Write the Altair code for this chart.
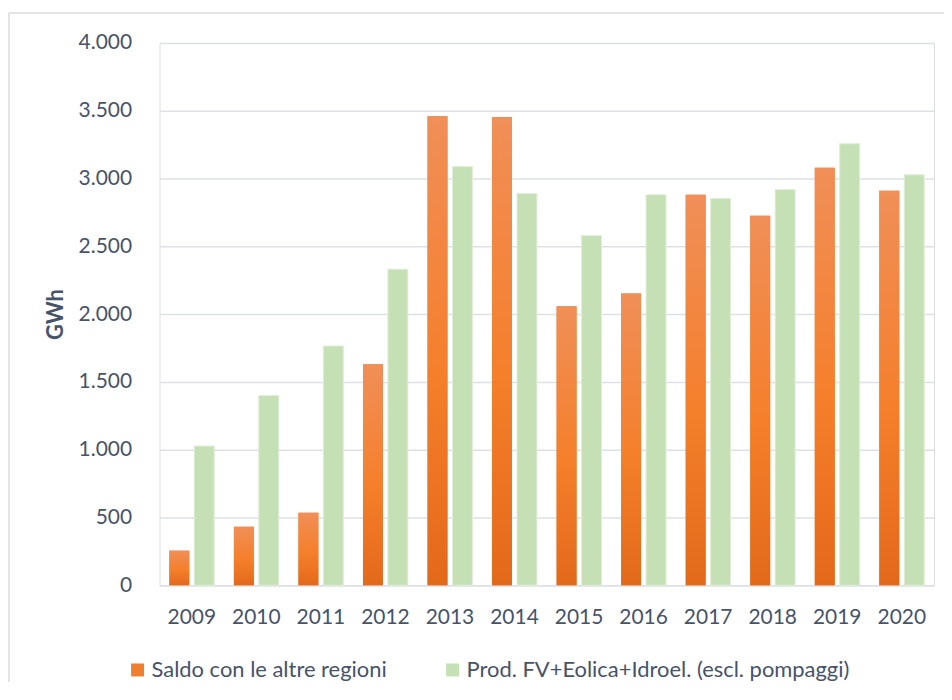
import altair as alt
import pandas as pd

anni = ["2009", "2010", "2011", "2012", "2013", "2014", "2015", "2016", "2017", "2018", "2019", "2020"]
saldo = [255, 432, 535, 1630, 3461, 3454, 2057, 2152, 2880, 2726, 3079, 2909]
prod = [1027, 1400, 1765, 2331, 3088, 2890, 2579, 2880, 2853, 2919, 3257, 3027]
serie = ["Saldo con le altre regioni", "Prod. FV+Eolica+Idroel. (escl. pompaggi)"]
y_ticks = [0, 500, 1000, 1500, 2000, 2500, 3000, 3500, 4000]

rows = []
for a, s, p in zip(anni, saldo, prod):
    rows.append({"anno": a, "serie": serie[0], "valore": s})
    rows.append({"anno": a, "serie": serie[1], "valore": p})
df = pd.DataFrame(rows)

label_color = "#46536A"
grid_color = "#DDE1E7"
FONT = "Lato"

x_enc = alt.X(
    "anno:N",
    sort=anni,
    scale=alt.Scale(paddingInner=0.305, paddingOuter=0.1525),
    axis=alt.Axis(
        title=None, labelAngle=0, ticks=False, domain=True, domainColor=grid_color,
        domainWidth=1.5, labelPadding=21, labelFontSize=21, labelColor=label_color,
        labelFont=FONT, grid=False,
    ),
)
xoff_enc = alt.XOffset("serie:N", sort=serie, scale=alt.Scale(domain=serie, paddingInner=0.2))
y_enc = alt.Y(
    "valore:Q",
    scale=alt.Scale(domain=[0, 4000], nice=False),
    axis=alt.Axis(
        values=y_ticks,
        labelExpr="replace(format(datum.value, ','), ',', '.')",
        grid=True, gridColor=grid_color, gridWidth=1.5, domain=False, ticks=False,
        labelPadding=28, labelFontSize=21, labelColor=label_color, labelFont=FONT,
        title="GWh", titleFontSize=22, titleFontWeight="bold", titleColor="#44546A",
        titleFont=FONT, titleX=-104, titleY=272, titleAngle=270,
        titleBaseline="middle", titleAlign="center",
    ),
)

base = alt.Chart(df).encode(x=x_enc, xOffset=xoff_enc, y=y_enc)

bars_all = base.mark_bar().encode(
    color=alt.Color(
        "serie:N",
        sort=serie,
        scale=alt.Scale(domain=serie, range=["#F07E30", "#C5E0B4"]),
        legend=alt.Legend(
            title=None, orient="none", legendX=-33, legendY=618, direction="horizontal",
            columns=2, labelFontSize=22, labelColor=label_color, labelFont=FONT,
            symbolType="square", symbolSize=169, symbolStrokeWidth=0, symbolOpacity=1,
            labelOffset=3, columnPadding=54, labelLimit=600,
        ),
    )
)

orange_grad = alt.Gradient(
    gradient="linear",
    stops=[
        alt.GradientStop(color="#F08F58", offset=0),
        alt.GradientStop(color="#F57F2B", offset=0.55),
        alt.GradientStop(color="#E3691A", offset=1),
    ],
    x1=0, x2=0, y1=0, y2=1,
)

orange_bars = base.transform_filter(alt.datum.serie == serie[0]).mark_bar(color=orange_grad)
green_bars = base.transform_filter(alt.datum.serie == serie[1]).mark_bar(
    color="#C5E0B4", stroke="#E2EFDA", strokeWidth=1
)

frame = alt.Chart(alt.Data(values=[{}])).mark_rect(
    fill="transparent", stroke="#D9DCE0", strokeWidth=1.5
).encode(
    x=alt.value(-151), x2=alt.value(900), y=alt.value(-30), y2=alt.value(700)
)

chart = alt.layer(frame, bars_all, orange_bars, green_bars).properties(
    width=777,
    height=544,
    padding={"left": 152, "top": 34, "right": 10, "bottom": 96},
    autosize=alt.AutoSizeParams(type="none"),
).configure_view(stroke=None).configure(font=FONT)

chart.save("out.html", embed_options={"renderer": "svg", "actions": False})
